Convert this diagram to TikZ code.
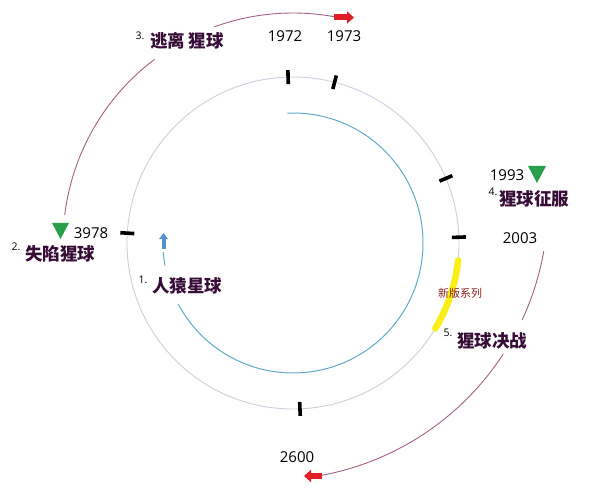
\documentclass[tikz,border=0pt]{standalone}
\usepackage{fontspec}
\setmainfont{Open Sans}
\newfontfamily\cjk{Noto Sans CJK SC}
\usetikzlibrary{arrows.meta}
\definecolor{ringgray}{RGB}{208,204,222}
\definecolor{ringblue}{RGB}{95,170,200}
\definecolor{mauve}{RGB}{165,95,135}
\definecolor{arrred}{RGB}{224,30,40}
\definecolor{labpurple}{RGB}{55,12,55}
\definecolor{tgreen}{RGB}{40,160,75}
\definecolor{hlyellow}{RGB}{250,238,20}
\definecolor{newred}{RGB}{140,30,30}
\begin{document}
\begin{tikzpicture}[x=1pt,y=1pt,
  ring/.style={draw=ringgray,line width=0.9pt},
  bluering/.style={draw=ringblue,line width=1pt},
  timearc/.style={draw=mauve,line width=0.9pt},
  tickmark/.style={line width=3.6pt,black},
  redarrow/.style={arrred,line width=6pt,-{Triangle[width=12pt,length=7pt]}},
  bluearrow/.style={ringblue!85!blue,line width=4pt,-{Triangle[width=8.5pt,length=6pt]}},
  year/.style={inner sep=0pt,font=\fontsize{15}{17}\selectfont},
  title/.style={inner sep=0pt,text=labpurple,font=\cjk\bfseries\fontsize{17.5}{20}\selectfont},
  num/.style={inner sep=0pt,font=\fontsize{10.5}{12}\selectfont},
  gtri/.style={fill=tgreen,draw=none}]
\useasboundingbox (0,0) rectangle (600,495);
\coordinate (C) at (293,252);
\coordinate (R) at (271,292);
% outer ring
\draw[ring] (C) circle (166);
% yellow highlight
\draw[hlyellow,line width=6.5pt,line cap=round] ([shift={(-6:166)}]C) arc (-6:-31:166);
% ticks
\foreach \a in {91.7,75.5,22.9,2,176.6,-87.6}
  \draw[tickmark] ([shift={(\a:159)}]C) -- ([shift={(\a:173)}]C);
% inner blue ring
\draw[bluering] ([shift={(92.5:130)}]C) arc (92.5:-152:130);
\draw[bluering] ([shift={(190:130)}]C) arc (190:184:130);
\coordinate (ba1) at (163.5,246);
\coordinate (ba2) at (163.5,262);
\draw[bluearrow] (ba1) -- (ba2);
% left / top time arc
\draw[timearc] ([shift={(173:230)}]C) arc (173:127:230);
\draw[timearc] ([shift={(110:230)}]C) arc (110:79.5:230);
\coordinate (ra1) at (334,477.5);
\coordinate (ra2) at (354,477.5);
\draw[redarrow] (ra1) -- (ra2);
% right time arc
\draw[timearc] ([shift={(-10:277)}]R) arc (-10:-25:277);
\draw[timearc] ([shift={(-33:277)}]R) arc (-33:-80.5:277);
\coordinate (rb1) at (322,19);
\coordinate (rb2) at (304,19);
\draw[redarrow] (rb1) -- (rb2);
% years
\node[year] (y1972) at (285,459) {1972};
\node[year] (y1973) at (344,459) {1973};
\node[year] (y1993) at (507,320) {1993};
\node[year] (y2003) at (520,257) {2003};
\node[year] (y3978) at (91,262) {3978};
\node[year] (y2600) at (297,38) {2600};
% green triangles
\fill[gtri] (528,329) -- (546,329) -- (537,312) -- cycle;
\fill[gtri] (52,272) -- (69,272) -- (60.5,256) -- cycle;
% titles
\node[title] (t3) at (187,454) {逃离\hspace{4pt}猩球};
\node[title] (t4) at (534,296) {猩球征服};
\node[title] (t5) at (492,154) {猩球决战};
\node[title] (t2) at (60,241) {失陷猩球};
\node[title] (t1) at (187,209) {人猿星球};
\node[num] (n3) at (140,459) {3.};
\node[num] (n4) at (493,303) {4.};
\node[num] (n5) at (448,162) {5.};
\node[num] (n2) at (16,248) {2.};
\node[num] (n1) at (143,215) {1.};
\node[inner sep=0pt,text=newred,font=\cjk\fontsize{11}{13}\selectfont] (xb) at (460,202) {新版系列};
\end{tikzpicture}
\end{document}
